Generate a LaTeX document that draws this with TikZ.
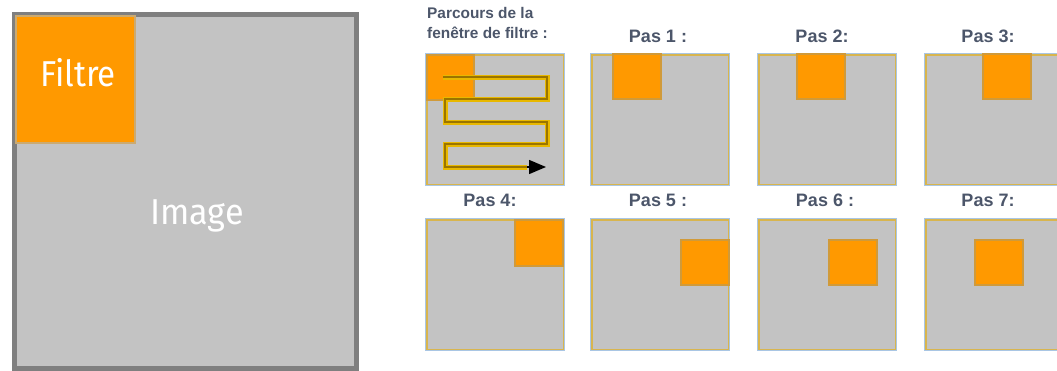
\documentclass[tikz,border=0pt]{standalone}
\usepackage{fontspec}
\usepackage{graphicx}
\setmainfont{Liberation Sans}
\newfontfamily\bigfont{Fira Sans}
\usetikzlibrary{arrows.meta}
\definecolor{imggray}{HTML}{C3C3C3}
\definecolor{framegray}{HTML}{7F7F7F}
\definecolor{filtorange}{HTML}{FF9900}
\definecolor{filtedge}{HTML}{D09A3A}
\definecolor{panelblue}{HTML}{A9C6E4}
\definecolor{panelgold}{HTML}{D8B54E}
\definecolor{pathgold}{HTML}{E8B800}
\definecolor{pathdark}{HTML}{9A7400}
\definecolor{labelcol}{HTML}{4C566A}
\tikzset{
  panel/.style={fill=imggray, draw=panelblue, line width=2.2pt, minimum width=138pt, minimum height=131pt, inner sep=0pt, anchor=north west},
  filt/.style={fill=filtorange, draw=filtedge, line width=1.8pt, minimum width=48pt, minimum height=45pt, inner sep=0pt, anchor=north west},
  lab/.style={font=\bfseries\fontsize{18}{20}\selectfont, text=labelcol, inner sep=0pt},
  goldpath/.style={draw=pathgold, line width=5pt},
  darkpath/.style={draw=pathdark, line width=2.2pt}
}
\begin{document}
\begin{tikzpicture}[x=1pt,y=-1pt]
\useasboundingbox (0,0) rectangle (1057,370);
% large image
\node[fill=imggray, draw=framegray, line width=4.5pt, minimum width=342pt, minimum height=354pt, inner sep=0pt, anchor=north west] (img) at (12,12) {};
\node[fill=filtorange, draw=filtedge!60!imggray, line width=1.5pt, minimum width=119pt, minimum height=127pt, inner sep=0pt, anchor=north west] (bigf) at (15,15) {};
\node[text=white, inner sep=0pt, font=\bigfont\fontsize{36}{40}\selectfont] (ftxt) at (78,73) {\scalebox{0.92}[1]{Filtre}};
\node[text=white, inner sep=0pt, font=\bigfont\fontsize{36}{40}\selectfont] (itxt) at (197,216) {\scalebox{0.95}[1]{Image}};
% panels row 1
\node[panel] (p0) at (425,53) {};
\node[panel] (p1) at (590,53) {};
\node[panel] (p2) at (757,53) {};
\node[panel] (p3) at (924,53) {};
% panels row 2
\node[panel] (p4) at (425,218) {};
\node[panel] (p5) at (590,218) {};
\node[panel] (p6) at (757,218) {};
\node[panel] (p7) at (924,218) {};
% inner gold borders
\foreach \p in {p0,p1,p2,p3,p4,p5,p6,p7}{
  \draw[panelgold, line width=1.4pt] ([xshift=2pt,yshift=-2pt]\p.north west) rectangle ([xshift=-2pt,yshift=2pt]\p.south east);
}
% filter squares
\node[filt, minimum width=47pt] (f0) at (426,54) {};
\node[filt] (f1) at (612,53) {};
\node[filt] (f2) at (796,53) {};
\node[filt] (f3) at (982,53) {};
\node[filt, minimum height=46pt] (f4) at (514,219) {};
\node[filt] (f5) at (680,239) {};
\node[filt] (f6) at (828,239) {};
\node[filt] (f7) at (974,239) {};
% snake path
\coordinate (s0) at (443,77);
\coordinate (s1) at (547,77);
\coordinate (s2) at (547,99);
\coordinate (s3) at (445,99);
\coordinate (s4) at (445,122);
\coordinate (s5) at (547,122);
\coordinate (s6) at (547,144);
\coordinate (s7) at (445,144);
\coordinate (s8) at (445,167);
\coordinate (s9) at (527,167);
\coordinate (s10) at (546,167);
\draw[goldpath] (s0) -- (s1) -- (s2) -- (s3) -- (s4) -- (s5) -- (s6) -- (s7) -- (s8) -- (s9);
\draw[darkpath] (s0) -- (s1) -- (s2) -- (s3) -- (s4) -- (s5) -- (s6) -- (s7) -- (s8) -- (s9);
\draw[-{Triangle[length=17pt,width=14pt]}, black, line width=1.5pt] (s9) -- (s10);
% labels
\node[lab, font=\bfseries\fontsize{15.4}{20}\selectfont, anchor=north west, align=left] (t0) at (427,7) {Parcours de la\\fenêtre de filtre :};
\node[lab] (t1) at (658,36) {Pas 1 :};
\node[lab] (t2) at (822,36) {Pas 2:};
\node[lab] (t3) at (988,36) {Pas 3:};
\node[lab] (t4) at (490,200) {Pas 4:};
\node[lab] (t5) at (658,200) {Pas 5 :};
\node[lab] (t6) at (825,200) {Pas 6 :};
\node[lab] (t7) at (988,200) {Pas 7:};
\end{tikzpicture}
\end{document}
